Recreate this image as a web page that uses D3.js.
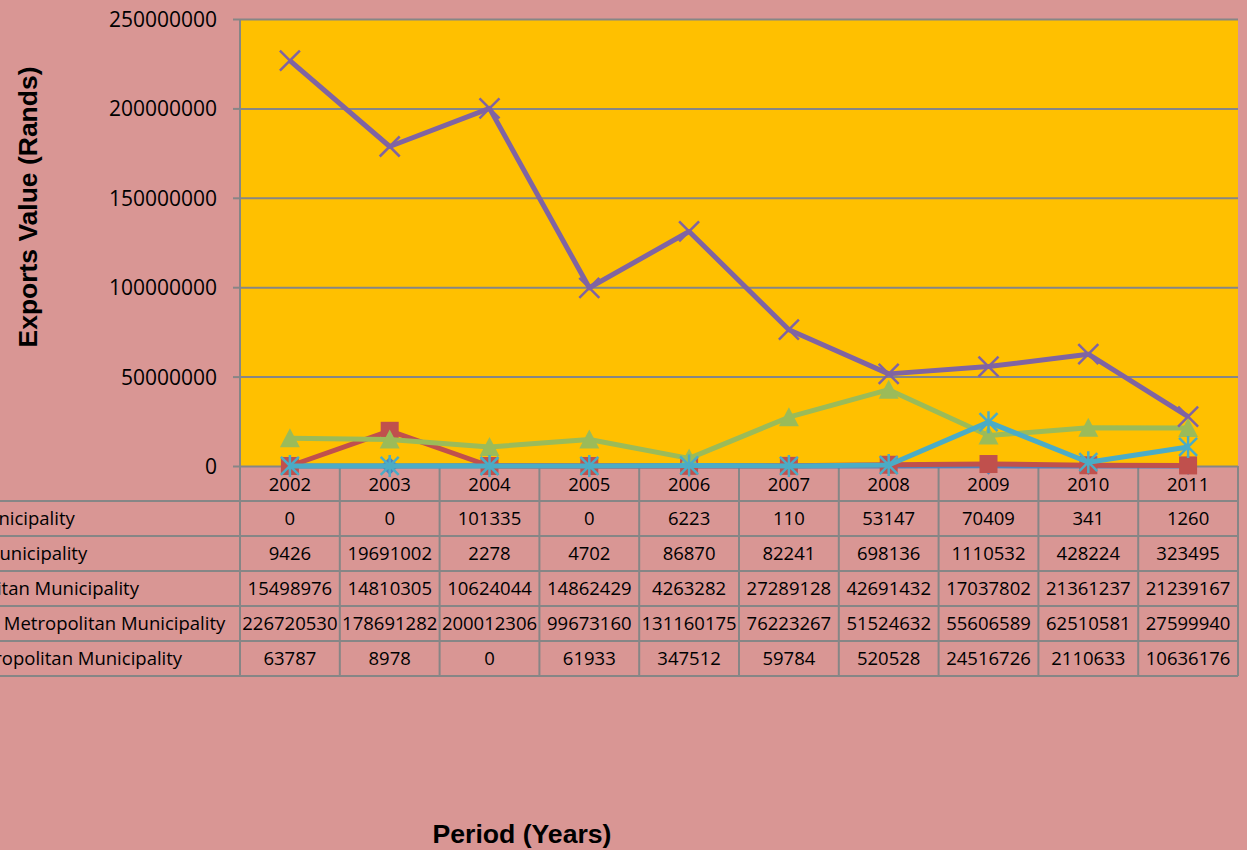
<!DOCTYPE html>
<html>
<head>
<meta charset="utf-8">
<script src="https://cdn.jsdelivr.net/npm/d3@7"></script>
<style>
  html, body { margin: 0; padding: 0; background: #d99694; }
  svg { display: block; }
  .tick-label { font-family: "Open Sans", sans-serif; font-size: 21px; fill: #000; }
  .cell { font-family: "Open Sans", sans-serif; font-size: 18.5px; fill: #000; }
  .axis-title { font-family: "Liberation Sans", Arial, sans-serif; font-weight: bold; font-size: 25px; fill: #000; }
</style>
</head>
<body>
<svg id="chart" width="1247" height="850"></svg>
<script>
  // categories
  const years = ["2002", "2003", "2004", "2005", "2006", "2007", "2008", "2009", "2010", "2011"];

  // series names (cropped on the left in the original picture)
  const seriesNames = [
    "Sedibeng District Municipality",
    "West Rand District Municipality",
    "Ekurhuleni Metropolitan Municipality",
    "City of Johannesburg Metropolitan Municipality",
    "City of Tshwane Metropolitan Municipality"
  ];

  // series values
  const sedibeng = [0, 0, 101335, 0, 6223, 110, 53147, 70409, 341, 1260];
  const westRand = [9426, 19691002, 2278, 4702, 86870, 82241, 698136, 1110532, 428224, 323495];
  const ekurhuleni = [15498976, 14810305, 10624044, 14862429, 4263282, 27289128, 42691432, 17037802, 21361237, 21239167];
  const johannesburg = [226720530, 178691282, 200012306, 99673160, 131160175, 76223267, 51524632, 55606589, 62510581, 27599940];
  const tshwane = [63787, 8978, 0, 61933, 347512, 59784, 520528, 24516726, 2110633, 10636176];

  // y ticks
  const yTicks = [0, 50000000, 100000000, 150000000, 200000000, 250000000];

  const seriesValues = [sedibeng, westRand, ekurhuleni, johannesburg, tshwane];
  const colors = ["#4f81bd", "#c0504d", "#9bbb59", "#8064a2", "#4bacc6"];
  const markers = ["diamond", "square", "triangle", "x", "star"];

  const svg = d3.select("#chart");
  const W = 1247, H = 850;
  const plot = { left: 240, right: 1238, top: 19, bottom: 466 };
  const rowH = 35;
  const gridColor = "#868686";

  svg.append("rect").attr("width", W).attr("height", H).attr("fill", "#d99694");

  const x = d3.scaleBand().domain(years).range([plot.left, plot.right]);
  const y = d3.scaleLinear().domain([0, 250000000]).range([plot.bottom, plot.top]);
  const cx = d => x(d) + x.bandwidth() / 2;

  // plot area
  svg.append("rect")
    .attr("x", plot.left).attr("y", plot.top)
    .attr("width", plot.right - plot.left).attr("height", plot.bottom - plot.top)
    .attr("fill", "#ffc000");

  // y axis with gridlines
  const yAxis = d3.axisLeft(y).tickValues(yTicks).tickSize(7).tickPadding(16).tickFormat(d3.format("d"));
  const gy = svg.append("g").attr("transform", `translate(${plot.left},0)`).call(yAxis);
  gy.select(".domain").remove();
  gy.selectAll(".tick line").attr("stroke", gridColor).attr("stroke-width", 2);
  gy.selectAll(".tick text").attr("class", "tick-label").attr("dy", "0.36em");
  gy.selectAll(".tick").append("line")
    .attr("x1", 0).attr("x2", plot.right - plot.left)
    .attr("stroke", gridColor).attr("stroke-width", 2);

  // data table
  const tableTop = plot.bottom;
  const tableBottom = tableTop + rowH * (seriesNames.length + 1);
  const table = svg.append("g");
  const colEdges = years.map(d => x(d)).concat([plot.right]);
  table.selectAll("line.v").data(colEdges).join("line")
    .attr("x1", d => d).attr("x2", d => d)
    .attr("y1", (d, i) => i === 0 ? plot.top : tableTop).attr("y2", tableBottom)
    .attr("stroke", gridColor).attr("stroke-width", 2);
  const rowEdges = d3.range(1, seriesNames.length + 2).map(i => tableTop + i * rowH);
  table.selectAll("line.h").data(rowEdges).join("line")
    .attr("x1", 0).attr("x2", plot.right)
    .attr("y1", d => d).attr("y2", d => d)
    .attr("stroke", gridColor).attr("stroke-width", 2);

  // header (years)
  table.selectAll("text.year").data(years).join("text")
    .attr("class", "cell")
    .attr("x", d => cx(d)).attr("y", tableTop + rowH / 2 + 1)
    .attr("dy", "0.36em").attr("text-anchor", "middle")
    .text(d => d);

  // rows
  const labelX = -180;
  seriesNames.forEach((name, r) => {
    const rowY = tableTop + rowH * (r + 1) + rowH / 2;
    table.append("text").attr("class", "cell")
      .attr("x", labelX).attr("y", rowY).attr("dy", "0.36em")
      .text(name);
    table.selectAll(null).data(seriesValues[r]).join("text")
      .attr("class", "cell")
      .attr("x", (d, i) => cx(years[i])).attr("y", rowY).attr("dy", "0.36em")
      .attr("text-anchor", "middle")
      .text(d => d);
  });

  // series lines and markers
  const line = d3.line().x((d, i) => cx(years[i])).y(d => y(d));
  const s = 9;
  function drawMarker(g, type, color) {
    if (type === "square") {
      g.append("rect").attr("x", -s).attr("y", -s).attr("width", 2 * s).attr("height", 2 * s).attr("fill", color);
    } else if (type === "triangle") {
      g.append("path").attr("d", `M0,${-s - 1}L${s + 1},${s}L${-s - 1},${s}Z`).attr("fill", color);
    } else if (type === "diamond") {
      g.append("path").attr("d", `M0,${-s}L${s},0L0,${s}L${-s},0Z`).attr("fill", color);
    } else if (type === "x") {
      g.append("path").attr("d", `M${-s - 1},${-s - 1}L${s + 1},${s + 1}M${s + 1},${-s - 1}L${-s - 1},${s + 1}`)
        .attr("stroke", color).attr("stroke-width", 2.5);
    } else if (type === "star") {
      g.append("path").attr("d", `M${-s},${-s}L${s},${s}M${s},${-s}L${-s},${s}M0,${-s - 2}L0,${s + 2}`)
        .attr("stroke", color).attr("stroke-width", 2.5);
    }
  }

  seriesValues.forEach((vals, k) => {
    const g = svg.append("g");
    g.append("path").datum(vals)
      .attr("d", line).attr("fill", "none")
      .attr("stroke", colors[k]).attr("stroke-width", 5)
      .attr("stroke-linejoin", "round");
    vals.forEach((v, i) => {
      const m = g.append("g").attr("transform", `translate(${cx(years[i])},${y(v)})`);
      drawMarker(m, markers[k], colors[k]);
    });
  });

  // axis titles
  svg.append("text").attr("class", "axis-title")
    .attr("transform", `translate(37,207) rotate(-90)`)
    .attr("text-anchor", "middle")
    .attr("textLength", 281).attr("lengthAdjust", "spacingAndGlyphs")
    .text("Exports Value (Rands)");
  svg.append("text").attr("class", "axis-title")
    .attr("x", 522).attr("y", 843)
    .attr("text-anchor", "middle")
    .attr("textLength", 179).attr("lengthAdjust", "spacingAndGlyphs")
    .text("Period (Years)");
</script>
</body>
</html>
